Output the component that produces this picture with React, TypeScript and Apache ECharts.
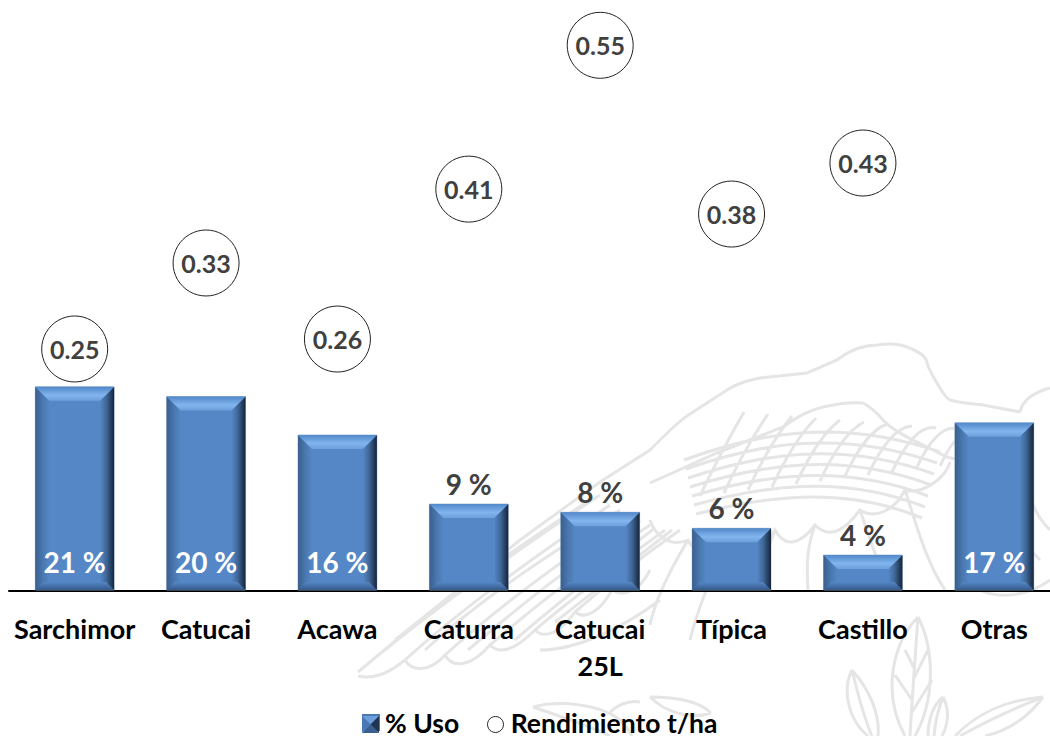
import React, { useEffect, useRef } from "react";
import * as echarts from "echarts";

const categories = ["Sarchimor", "Catucai", "Acawa", "Caturra", "Catucai\n25L", "Típica", "Castillo", "Otras"];
const usoValues = [21, 20, 16.05, 8.95, 8.1, 6.45, 3.7, 17.3];
const rendimientoValues = [0.2457, 0.333, 0.2558, 0.408, 0.554, 0.3827, 0.4345];
const rendimientoCategories = [0, 1, 2, 3, 4, 5, 6];
const FONT = "Lato, Carlito, sans-serif";

function latticePath() {
  let d = "";
  for (let i = 0; i < 11; i++) {
    const x = 700 + i * 24;
    d += `M${x} ${496 - i * 3} C${x + 12} ${470 - i * 3} ${x + 28} ${440 - i * 2} ${x + 44} ${412 + i * 2} `;
  }
  for (let i = 0; i < 7; i++) {
    const y = 424 + i * 11;
    d += `M${684 + i * 2} ${y + 36 - i * 2} C${760} ${y + 8} ${840} ${y - 6} ${940 - i * 3} ${y + 28} `;
  }
  return d;
}

const wingPath =
  "M358 672 L430 612 L520 540 L600 482 L650 450 C670 430 680 420 693 412 L727 390 C740 382 750 380 760 378 L807 373 L837 360 C850 350 865 345 877 345 C890 343 900 344 907 347 C920 352 927 358 927 363 C930 372 934 378 937 383 C942 392 946 398 950 400 C965 404 975 404 983 405 L1020 412 " +
  "M1020 412 C1022 400 1035 392 1050 388 M1026 430 C1030 470 1020 500 1050 530 " +
  "M650 483 L717 453 L783 427 C800 415 810 410 823 407 C840 403 852 402 863 403 C872 408 878 414 883 420 C890 428 898 432 907 437 L947 457 L1000 470 " +
  "M358 676 C375 680 390 672 405 660 C412 672 430 672 445 655 C452 668 470 668 490 645 C500 655 515 650 535 630 C545 640 560 632 575 612 C585 620 600 612 612 590 C625 598 640 590 650 570 " +
  "M405 660 C460 610 530 560 610 505 M445 655 C495 610 555 565 630 515 M490 645 C530 610 580 570 650 525 M535 630 C570 600 610 570 665 530 M575 612 C600 590 630 565 680 530 M385 650 C440 605 510 555 600 495 " +
  "M395 640 C450 595 520 545 590 500 M425 650 C480 600 540 560 620 510 M468 650 C515 610 570 565 640 520 M515 640 C555 605 600 570 655 528 M555 622 C590 595 620 570 672 530 " +
  "M650 520 C655 535 670 548 688 540 C695 555 715 555 730 535 C738 555 760 555 775 530 C785 548 800 545 815 525 C830 540 845 530 860 510 C875 520 895 510 905 490 C920 495 945 480 950 462 " +
  "M688 540 C670 570 655 600 650 625 M730 535 C715 570 700 600 690 640 M775 530 C765 555 760 575 760 590 M815 525 C808 545 806 560 808 590 M860 510 C870 540 880 570 890 590 M905 490 C915 520 925 560 945 590 " +
  "M1010 440 C1000 470 990 510 1040 560 M980 590 C1000 600 1030 595 1050 580 M660 600 C620 630 575 650 540 650 " +
  latticePath();

const leafPath =
  "M918 617 C895 640 880 690 905 736 M918 617 C935 650 935 700 915 736 M918 617 C915 660 912 700 910 736 M905 650 L914 668 M928 650 L914 678 M895 675 L912 700 M932 680 L912 712 " +
  "M852 670 C842 690 848 720 868 736 M852 670 C870 690 880 715 878 736 M852 670 C858 695 865 720 872 736 " +
  "M943 697 C932 706 928 722 928 736 M943 697 C950 710 948 725 942 736 M943 697 C938 710 935 722 934 736 " +
  "M1043 697 C1005 700 975 715 955 736 M1043 697 C1030 715 1010 730 985 736 M1043 697 C1015 708 985 722 960 736 " +
  "M650 697 C665 712 690 720 711 713 M650 697 C680 697 700 702 711 713 M533 707 C560 700 600 704 620 720 C626 726 630 732 632 736 M533 707 C565 718 590 726 610 736 M610 712 C618 705 628 700 640 702";

echarts.graphic.registerShape("wmark", echarts.graphic.extendPath(wingPath + leafPath, {}) as any);

const grad = (x2: number, y2: number, stops: [number, string][]) => ({
  type: "linear", x: 0, y: 0, x2, y2,
  colorStops: stops.map(([offset, color]) => ({ offset, color })),
});

const BODY = "#5587c6";
const renderBar = (params: any, api: any) => {
  const i = api.value(0);
  const v = api.value(1);
  const top = api.coord([i, v]);
  const base = api.coord([i, 0]);
  const w = api.size([1, 0])[0] * 0.6;
  const l = top[0] - w / 2;
  const r = top[0] + w / 2;
  const t = top[1];
  const b = base[1] - 1;
  const e = 14;
  const eb = 8;
  const poly = (points: number[][], fill: any) => ({ type: "polygon", shape: { points }, style: { fill } });
  const inside = v >= 10;
  return {
    type: "group",
    children: [
      { type: "rect", shape: { x: l, y: t, width: w, height: b - t }, style: { fill: BODY, stroke: "#9db4d2", lineWidth: 0.8 } },
      poly([[l, t], [l + e, t + e], [l + e, b - eb], [l, b]], grad(1, 0, [[0, "#3a5f8e"], [0.55, "#4a78b0"], [1, BODY]])),
      poly([[r, t], [r - e, t + e], [r - e, b - eb], [r, b]], grad(1, 0, [[0, BODY], [0.45, "#3f6797"], [1, "#16243a"]])),
      poly([[l, t], [r, t], [r - e, t + e], [l + e, t + e]], grad(0, 1, [[0, "#5288ca"], [0.6, "#82b5ee"], [1, "#6d9fdb"]])),
      poly([[l, b], [r, b], [r - eb, b - eb], [l + eb, b - eb]], grad(0, 1, [[0, BODY], [1, "#355a8a"]])),
      {
        type: "text",
        style: {
          text: Math.round(v) + " %",
          x: top[0],
          y: inside ? 562 : t - 20,
          align: "center",
          verticalAlign: "middle",
          fill: inside ? "#ffffff" : "#404040",
          fontFamily: FONT,
          fontWeight: "bold",
          fontSize: 28,
        },
      },
    ],
  };
};

export default function App() {
  const ref = useRef<HTMLDivElement>(null);
  useEffect(() => {
    document.body.style.margin = "0";
    document.documentElement.style.overflow = "hidden";
    const chart = echarts.init(ref.current!, undefined, { renderer: "svg" });
    chart.setOption({
      animation: false,
      backgroundColor: "#ffffff",
      grid: { left: 9, top: 0, right: 0, height: 591 },
      xAxis: {
        type: "category",
        data: categories,
        axisLine: { show: true, lineStyle: { color: "#000000", width: 2 } },
        axisTick: { show: false },
        axisLabel: {
          interval: 0,
          margin: 19,
          color: "#000000",
          fontFamily: FONT,
          fontWeight: "bold",
          fontSize: 27,
          lineHeight: 37,
        },
      },
      yAxis: [
        { type: "value", min: 0, max: 60.8, show: false },
        { type: "value", min: 0, max: 0.6, show: false },
      ],
      legend: {
        left: 362,
        top: 709,
        padding: 0,
        itemWidth: 18,
        itemHeight: 17,
        itemGap: 29,
        selectedMode: false,
        textStyle: { color: "#000000", fontFamily: FONT, fontWeight: "bold", fontSize: 26.5, lineHeight: 24 },
        data: [
          { name: "% Uso", icon: "rect", itemStyle: { color: "#4a7ab5" } },
          { name: "Rendimiento t/ha", icon: "circle", itemStyle: { color: "transparent", borderWidth: 0 } },
        ],
      },
      graphic: [
        {
          type: "wmark",
          x: 0,
          y: 0,
          silent: true,
          z: -10,
          style: { fill: "none", stroke: "#e5e5e5", lineWidth: 3 },
        },
        { type: "polygon", z: 50, silent: true, shape: { points: [[362, 716], [379, 716], [370.5, 724.5]] }, style: { fill: "#6c9fdc" } },
        { type: "polygon", z: 50, silent: true, shape: { points: [[379, 716], [379, 733], [370.5, 724.5]] }, style: { fill: "#1f3552" } },
        { type: "polygon", z: 50, silent: true, shape: { points: [[362, 733], [379, 733], [370.5, 724.5]] }, style: { fill: "#3a5f8f" } },
        { type: "polygon", z: 50, silent: true, shape: { points: [[362, 716], [362, 733], [370.5, 724.5]] }, style: { fill: "#4a7ab5" } },
        { type: "circle", z: 50, silent: true, shape: { cx: 495.5, cy: 724.5, r: 8 }, style: { fill: "#ffffff", stroke: "#222222", lineWidth: 1 } },
      ],
      series: [
        {
          name: "% Uso",
          type: "custom",
          coordinateSystem: "cartesian2d",
          xAxisIndex: 0,
          yAxisIndex: 0,
          clip: false,
          z: 3,
          renderItem: renderBar,
          encode: { x: 0, y: 1 },
          data: usoValues.map((v, i) => [i, v]),
        },
        {
          name: "Rendimiento t/ha",
          type: "scatter",
          yAxisIndex: 1,
          z: 4,
          symbol: "circle",
          symbolSize: 66,
          itemStyle: { color: "#ffffff", borderColor: "#222222", borderWidth: 1, opacity: 1 },
          label: {
            show: true,
            position: "inside",
            color: "#404040",
            fontFamily: FONT,
            fontWeight: "bold",
            fontSize: 25,
            formatter: (p: any) => p.value[1].toFixed(2),
          },
          data: rendimientoValues.map((v, i) => [rendimientoCategories[i], v]),
        },
      ],
    });
    return () => chart.dispose();
  }, []);
  return <div ref={ref} style={{ position: "fixed", left: 0, top: 0, width: 1060, height: 736 }} />;
}
